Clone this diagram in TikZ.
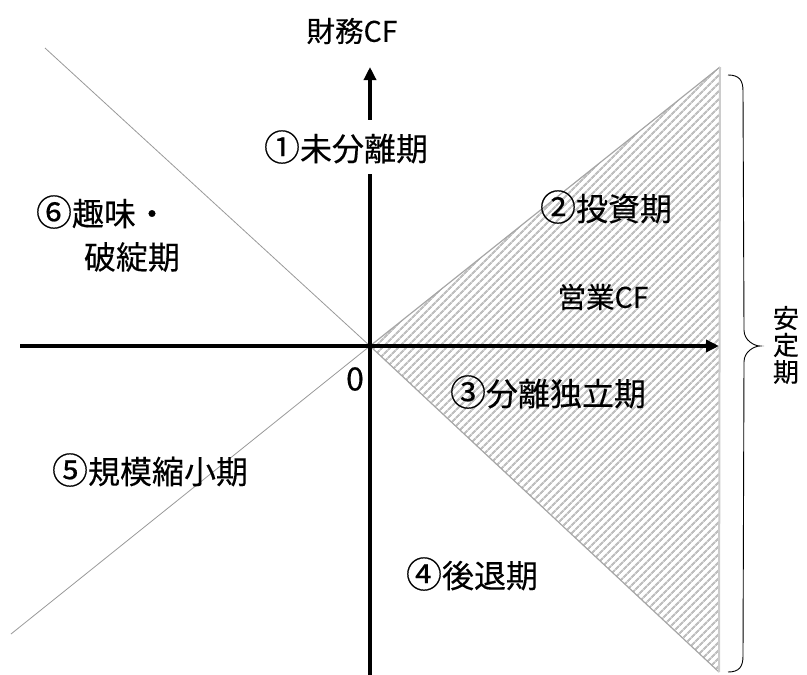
\documentclass[tikz,border=0pt]{standalone}
\usepackage{fontspec}
\setmainfont{Noto Sans CJK JP}[FakeBold=0.3]
\usetikzlibrary{arrows.meta,patterns.meta}
\newcommand{\circnum}[1]{{\fontsize{36}{38}\selectfont #1}}
\begin{document}
\begin{tikzpicture}[x=1pt,y=-1pt,
  lbl/.style={inner sep=0pt, font=\fontsize{32}{38}\selectfont},
  sml/.style={inner sep=0pt, font=\fontsize{28.5}{32}\selectfont},
  vch/.style={inner sep=0pt, font=\fontsize{26}{30}\selectfont},
  axisline/.style={line width=3.5pt, -{Triangle[length=13pt,width=12pt]}},
  diag/.style={draw=gray!80, line width=0.8pt},
  ]
\useasboundingbox (0,0) rectangle (807,675);
\coordinate (O) at (370,346);
\coordinate (T) at (720,67);
\coordinate (B) at (719,672);
\coordinate (UL) at (45,48);
\coordinate (LL) at (11,634);
\coordinate (xs) at (20,346);
\coordinate (xe) at (719,346);
\coordinate (ys) at (370,675);
\coordinate (ye) at (370,67);
\coordinate (bt) at (728,75);
\coordinate (btip) at (760,346);
\coordinate (bb) at (728,672);
% hatched triangle
\fill[pattern={Lines[angle=45,distance=5.4pt,line width=2.1pt]}, pattern color=gray!50] (O) -- (T) -- (B) -- cycle;
\draw[gray!70, line width=1.2pt] (O) -- (T);
\draw[gray!70, line width=1.2pt] (O) -- (B);
\draw[gray!40, line width=2pt] (T) -- (B);
% diagonals
\draw[diag] (UL) -- (O);
\draw[diag] (LL) -- (O);
% axes
\draw[axisline] (xs) -- (xe);
\draw[axisline] (ys) -- (ye);
% brace (tip at axis level)
\draw[line width=0.9pt] (bt) .. controls ([xshift=11pt]bt) and ([xshift=15pt,yshift=-5pt]bt) .. ([xshift=15pt,yshift=-16pt]bt)
  -- ([xshift=-16pt,yshift=16pt]btip) .. controls ([xshift=-16pt,yshift=5pt]btip) and ([xshift=-5pt]btip) .. (btip)
  .. controls ([xshift=-5pt]btip) and ([xshift=-16pt,yshift=-5pt]btip) .. ([xshift=-16pt,yshift=-16pt]btip)
  -- ([xshift=15pt,yshift=16pt]bb) .. controls ([xshift=15pt,yshift=5pt]bb) and ([xshift=11pt]bb) .. (bb);
% labels
\node[vch] (s1) at (786,318) {安};
\node[vch] (s2) at (786,345) {定};
\node[vch] (s3) at (786,372) {期};
\node[lbl, fill=white, inner xsep=2pt, inner ysep=10pt] (p1) at (346,147) {\circnum{①}未分離期};
\node[lbl] (p2) at (606,207) {\circnum{②}投資期};
\node[sml] (ocf) at (603,297) {営業CF};
\node[lbl] (p3) at (548,392) {\circnum{③}分離独立期};
\node[lbl] (p4) at (472,574) {\circnum{④}後退期};
\node[lbl] (p5) at (150,470) {\circnum{⑤}規模縮小期};
\node[lbl] (p6a) at (102,212) {\circnum{⑥}趣味・};
\node[lbl] (p6b) at (132,257) {破綻期};
\node[lbl] (zero) at (355,379) {0};
\node[sml] (fcf) at (352,31) {財務CF};
\end{tikzpicture}
\end{document}
